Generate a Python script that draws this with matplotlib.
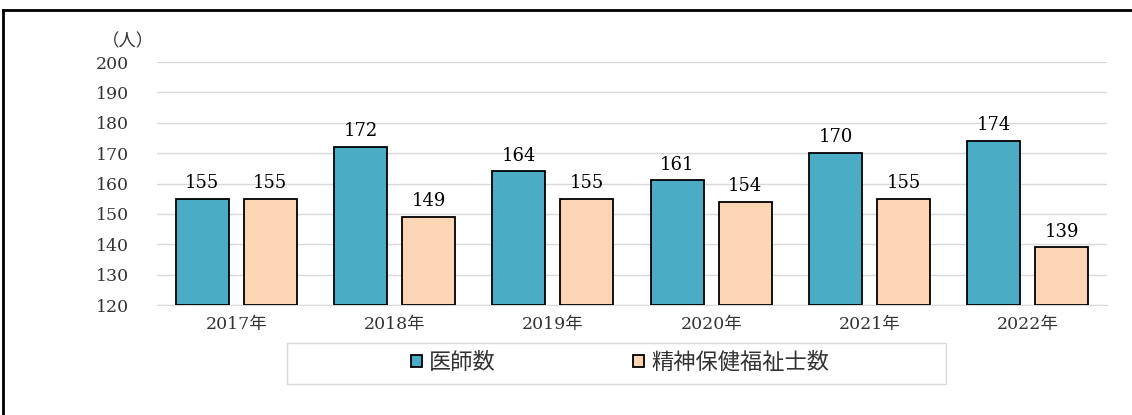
import numpy as np
import matplotlib.pyplot as plt
from matplotlib.lines import Line2D
from matplotlib.patches import Rectangle

years = ['2017年', '2018年', '2019年', '2020年', '2021年', '2022年']
doctors = [155, 172, 164, 161, 170, 174]
psw = [155, 149, 155, 154, 155, 139]
series_names = ['医師数', '精神保健福祉士数']

blue = '#4BACC6'
peach = '#FCD5B5'
fam = ['DejaVu Serif', 'Noto Sans CJK JP']
plt.rcParams['font.family'] = fam

fig = plt.figure(figsize=(11.32, 4.15), dpi=100)
ax = fig.add_axes([157/1132, 1-305/415, 950/1132, 243/415])

x = np.arange(len(years))
w = 0.335
off = 0.215
ax.bar(x - off, np.array(doctors) - 120, bottom=120, width=w, color=blue,
       edgecolor='black', linewidth=1.3, label=series_names[0], zorder=3)
ax.bar(x + off, np.array(psw) - 120, bottom=120, width=w, color=peach,
       edgecolor='black', linewidth=1.3, label=series_names[1], zorder=3)

for i in range(len(years)):
    ax.text(x[i] - off, doctors[i] + 2.2, str(doctors[i]), ha='center', va='bottom', fontsize=13)
    ax.text(x[i] + off, psw[i] + 2.2, str(psw[i]), ha='center', va='bottom', fontsize=13)

ax.set_xlim(-0.5, len(years) - 0.5)
ax.set_ylim(120, 200)
ax.set_yticks(range(120, 201, 10))
ax.set_xticks(x)
ax.set_xticklabels(years, fontsize=12.5, color='#333333')
ax.tick_params(axis='y', labelsize=12.5, length=0, pad=20, labelcolor='#333333')
ax.tick_params(axis='x', length=0, pad=8)
ax.grid(axis='y', color='#d9d9d9', linewidth=1, zorder=0)
for s in ['top', 'right', 'left']:
    ax.spines[s].set_visible(False)
ax.spines['bottom'].set_color('#d9d9d9')

fig.text(128/1132, 1-42/415, '（人）', ha='center', va='center', fontsize=12.5, color='#333333')

leg = ax.legend(loc='center', bbox_to_anchor=((620-157)/950, -(363-305)/243),
                ncol=2, frameon=False, fontsize=16, handlelength=0.5, handleheight=0.5,
                columnspacing=6.2, handletextpad=0.3, fancybox=False)
for t in leg.get_texts():
    t.set_color('#333333')

# legend box as in the reference
fig.add_artist(Rectangle((287/1132, 1-384/415), (946-287)/1132, 41/415, transform=fig.transFigure,
                         facecolor='none', edgecolor='#d9d9d9', linewidth=1))

fig.add_artist(Line2D([3/1132, 1], [1-10/415, 1-10/415], color='black', linewidth=2, transform=fig.transFigure))
fig.add_artist(Line2D([3/1132, 3/1132], [0, 1-10/415], color='black', linewidth=2, transform=fig.transFigure))

fig.savefig('out.png', dpi=100)
